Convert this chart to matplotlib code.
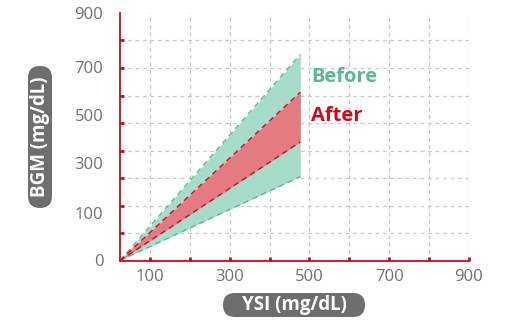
import numpy as np
import matplotlib.pyplot as plt
from matplotlib.patches import FancyBboxPatch

# band edges (YSI value -> BGM value)
ysi = [25, 477]
before_hi = [0, 749]
before_lo = [0, 305]
after_hi = [0, 612]
after_lo = [0, 431]

xticks = [100, 200, 300, 400, 500, 600, 700, 800, 900]
yticks = [100, 200, 300, 400, 500, 600, 700, 800, 900]
# y labels in the original sit evenly spaced, not on their ticks
ylabels = ['0', '100', '300', '500', '700', '900']
ylabel_pos = [0, 174, 353, 529, 705, 900]

red = '#cc0a1e'
green = '#5bb891'
gray = '#6e6e6e'

plt.rcParams['font.family'] = ['Open Sans', 'DejaVu Sans']

fig = plt.figure(figsize=(5.06, 3.21), dpi=100)
ax = fig.add_axes([120/506, 1 - 260.5/321, 349/506, 247.5/321])

ax.fill_between(ysi, before_lo, before_hi, color='#a7dcc8', lw=0, zorder=2)
ax.fill_between(ysi, after_lo, after_hi, color='#e57b82', lw=0, zorder=3)
ax.plot(ysi, before_hi, color=green, ls=(0, (4, 3)), lw=1, zorder=4)
ax.plot(ysi, before_lo, color=green, ls=(0, (4, 3)), lw=1, zorder=4)
ax.plot(ysi, after_hi, color=red, ls=(0, (4, 3)), lw=1, zorder=4)
ax.plot(ysi, after_lo, color=red, ls=(0, (4, 3)), lw=1, zorder=4)

ax.set_xlim(25, 900)
ax.set_ylim(0, 900)
ax.set_xticks(xticks)
ax.set_xticklabels([str(v) if (v // 100) % 2 == 1 else '' for v in xticks])
ax.set_yticks(yticks, minor=True)
ax.set_yticks(ylabel_pos)
ax.set_yticklabels(ylabels)

ax.grid(True, axis='x', color='#c8c8c8', ls=(0, (3, 3)), lw=0.9, zorder=0)
ax.grid(True, axis='y', which='minor', color='#c8c8c8', ls=(0, (3, 3)), lw=0.9, zorder=0)
ax.set_axisbelow(True)
for s in ['top', 'right']:
    ax.spines[s].set_visible(False)
for s in ['left', 'bottom']:
    ax.spines[s].set_color(red)
    ax.spines[s].set_linewidth(1.3)
ax.tick_params(axis='both', which='both', direction='in', length=3, width=2, color=red,
               labelcolor='#707070', labelsize=12)
ax.tick_params(axis='y', which='major', length=0, pad=12)
ax.tick_params(axis='x', pad=6)

ax.text(505, 668, 'Before', color=green, fontsize=14.5, fontweight='bold', va='center')
ax.text(505, 526, 'After', color=red, fontsize=14.5, fontweight='bold', va='center')

# pill-shaped axis label boxes
fig.patches.append(FancyBboxPatch((223/506, 1 - 317/321), 142/506, 24/321,
                                  boxstyle='round,pad=0,rounding_size=0.0237',
                                  transform=fig.transFigure, fc=gray, ec='none',
                                  mutation_aspect=506/321))
fig.patches.append(FancyBboxPatch((28/506, 1 - 208/321), 24/506, 142/321,
                                  boxstyle='round,pad=0,rounding_size=0.0237',
                                  transform=fig.transFigure, fc=gray, ec='none',
                                  mutation_aspect=506/321))
fig.text(294/506, 1 - 305/321, 'YSI (mg/dL)', color='white', fontsize=13.5,
         fontweight='bold', ha='center', va='center')
fig.text(40/506, 1 - 137/321, 'BGM (mg/dL)', color='white', fontsize=13.5,
         fontweight='bold', ha='center', va='center', rotation=90)

fig.savefig('out.png', dpi=100)
